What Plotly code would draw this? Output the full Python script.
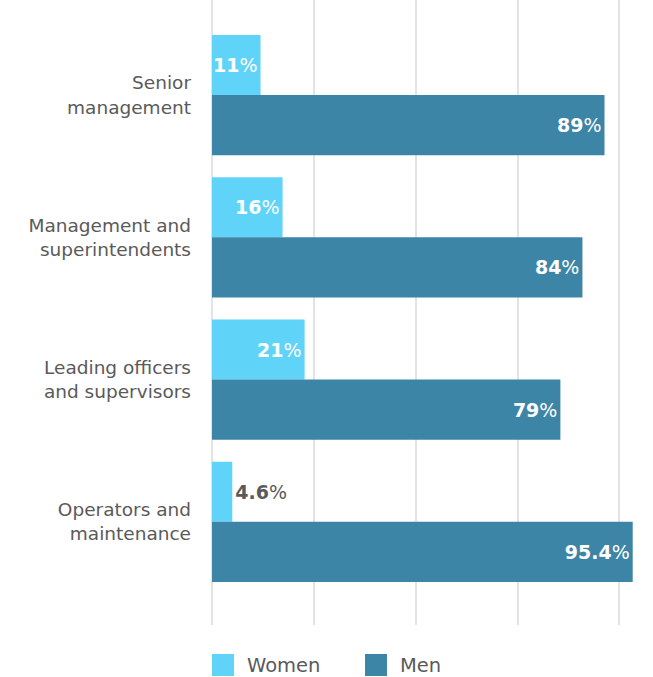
import plotly.graph_objects as go

# Share of women and men by job level (%)
categories = [
    "Senior<br>management",
    "Management and<br>superintendents",
    "Leading officers<br>and supervisors",
    "Operators and<br>maintenance",
]
women = [11, 16, 21, 4.6]
men = [89, 84, 79, 95.4]
series_names = ["Women", "Men"]

WOMEN_COLOR = "#5fd4f8"
MEN_COLOR = "#3d85a6"
TEXT_GRAY = "#5a5a5a"
FONT = "DejaVu Sans"

PLOT_W = 653 - 212
PLOT_H = 677 - 52


def label(v):
    return f"<b>{v:g}</b>%"


women_pos = ["outside" if v < 8 else "inside" for v in women]
women_txtcol = [TEXT_GRAY if p == "outside" else "white" for p in women_pos]

fig = go.Figure()
fig.add_trace(go.Bar(
    y=categories, x=women, orientation="h", name=series_names[0],
    marker=dict(color=WOMEN_COLOR, line=dict(width=0)),
    text=[label(v) for v in women], textposition=women_pos,
    insidetextanchor="end", constraintext="none", textangle=0,
    textfont=dict(color=women_txtcol, size=19, family=FONT),
    showlegend=False, cliponaxis=False,
))
fig.add_trace(go.Bar(
    y=categories, x=men, orientation="h", name=series_names[1],
    marker=dict(color=MEN_COLOR, line=dict(width=0)),
    text=[label(v) for v in men], textposition="inside",
    insidetextanchor="end", constraintext="none", textangle=0,
    textfont=dict(color="white", size=19, family=FONT),
    showlegend=False, cliponaxis=False,
))

# legend: large square swatches with labels beneath the plot
swatch = 22
legend_cy = -40 / PLOT_H
for i, (name, col) in enumerate(zip(series_names, [WOMEN_COLOR, MEN_COLOR])):
    x0 = i * 153 / PLOT_W
    fig.add_shape(
        type="rect", xref="paper", yref="paper",
        x0=x0, x1=x0 + swatch / PLOT_W,
        y0=legend_cy - (swatch / 2) / PLOT_H, y1=legend_cy + (swatch / 2) / PLOT_H,
        fillcolor=col, line=dict(width=0),
    )
    fig.add_annotation(
        xref="paper", yref="paper",
        x=x0 + (swatch + 11) / PLOT_W, y=legend_cy,
        xanchor="left", yanchor="middle",
        text=name, showarrow=False,
        font=dict(size=19.5, color=TEXT_GRAY, family=FONT),
    )

fig.update_layout(
    width=653, height=677,
    margin=dict(l=212, r=0, t=0, b=52),
    paper_bgcolor="white", plot_bgcolor="white",
    barmode="group", bargap=0.155, bargroupgap=0,
    font=dict(family=FONT, color=TEXT_GRAY, size=18.5),
    showlegend=False,
    xaxis=dict(
        range=[0, 100], tick0=0, dtick=23.1,
        showticklabels=False, showgrid=True, gridcolor="#e3e3e3", gridwidth=2,
        zeroline=True, zerolinecolor="#e3e3e3", zerolinewidth=2,
        fixedrange=True,
    ),
    yaxis=dict(
        type="category", range=[3.725, -0.668],
        showgrid=False, zeroline=False, ticks="",
        ticklabelstandoff=20,
        tickfont=dict(size=18.5, color=TEXT_GRAY, family=FONT),
        fixedrange=True,
    ),
)

fig.write_html("out.html")
